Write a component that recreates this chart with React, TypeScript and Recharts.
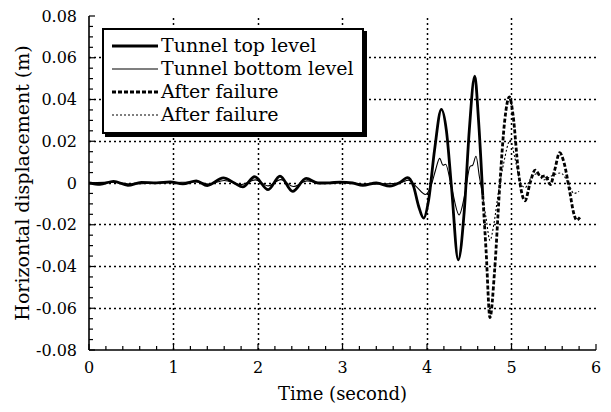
import React from 'react';
import { LineChart, Line, XAxis, YAxis, Legend } from 'recharts';

const FONT = 'DejaVu Serif, Liberation Serif, serif';

// [time (s), horizontal displacement (m)]
const topLevel: [number, number][] = [
  [0, 0], [0.13, -0.0006], [0.29, 0.0008], [0.46, -0.0011], [0.62, 0.0003],
  [0.8, 0.0001], [0.96, 0.0005], [1.11, -0.0004], [1.27, 0.001], [1.4, -0.0012],
  [1.59, 0.0025], [1.72, 0.0], [1.82, -0.0019], [1.96, 0.003], [2.12, -0.0032],
  [2.26, 0.0033], [2.41, -0.004], [2.57, 0.0022], [2.71, 0.0], [2.85, 0.0001],
  [2.97, 0.0004], [3.12, 0.0], [3.24, -0.0011], [3.4, 0.0], [3.56, -0.0015],
  [3.68, 0.0002], [3.77, 0.0026], [3.84, -0.0015], [3.9, -0.011], [3.96, -0.0168],
  [4.02, -0.008], [4.09, 0.016], [4.17, 0.0353], [4.23, 0.025], [4.29, -0.002],
  [4.37, -0.0368], [4.44, -0.014], [4.5, 0.025], [4.565, 0.0512], [4.61, 0.03],
  [4.66, -0.006],
];

const bottomLevel: [number, number][] = [
  [0, 0], [0.3, 0.0004], [0.5, -0.0005], [0.8, 0.0], [1.0, 0.0002],
  [1.27, 0.0005], [1.42, -0.0005], [1.6, 0.0012], [1.8, -0.0008], [1.97, 0.0015],
  [2.12, -0.0014], [2.27, 0.0016], [2.42, -0.0017], [2.58, 0.001], [2.75, 0.0],
  [3.0, 0.0002], [3.25, -0.0005], [3.5, -0.0004], [3.68, 0.0], [3.78, 0.0014],
  [3.88, -0.002], [3.98, -0.0055], [4.05, -0.001], [4.1, 0.006], [4.15, 0.0118],
  [4.19, 0.0085], [4.22, 0.009], [4.29, -0.002], [4.38, -0.0153], [4.45, -0.005],
  [4.51, 0.008], [4.54, 0.0085], [4.58, 0.0128], [4.62, 0.003], [4.65, -0.004],
];

const topAfterFailure: [number, number][] = [
  [4.66, -0.006], [4.7, -0.033], [4.745, -0.0645], [4.8, -0.042], [4.86, -0.002],
  [4.92, 0.03], [4.975, 0.0413], [5.02, 0.032], [5.08, 0.006], [5.16, -0.0085],
  [5.22, 0.0], [5.28, 0.0062], [5.35, 0.003], [5.4, 0.0035], [5.46, -0.0008],
  [5.51, 0.006], [5.57, 0.0145], [5.62, 0.01], [5.68, -0.002], [5.74, -0.015],
  [5.77, -0.0178], [5.81, -0.0165],
];

const bottomAfterFailure: [number, number][] = [
  [4.65, -0.004], [4.7, -0.017], [4.745, -0.0275], [4.79, -0.02], [4.84, -0.006],
  [4.91, 0.01], [4.985, 0.0205], [5.04, 0.012], [5.1, 0.001], [5.16, -0.0022],
  [5.24, 0.003], [5.31, 0.0045], [5.38, 0.0015], [5.48, 0.0035], [5.58, 0.0048],
  [5.66, 0.001], [5.74, -0.005], [5.8, -0.004],
];

const timeTicks = [0, 1, 2, 3, 4, 5, 6];
const dispTicks = [-0.08, -0.06, -0.04, -0.02, 0, 0.02, 0.04, 0.06, 0.08];

// minor ticks: 5 per second, 4 per 0.02 m
const timeMinor = Array.from({ length: 31 }, (_, i) => i / 5);
const dispMinor = Array.from({ length: 33 }, (_, i) => (i - 16) * 0.005);

const SERIES = [
  { key: 'top', name: 'Tunnel top level', points: topLevel, width: 2.8, dash: undefined },
  { key: 'bottom', name: 'Tunnel bottom level', points: bottomLevel, width: 1.1, dash: undefined },
  { key: 'topAfter', name: 'After failure', points: topAfterFailure, width: 2.8, dash: '4 2' },
  { key: 'bottomAfter', name: 'After failure', points: bottomAfterFailure, width: 1.1, dash: '2 2' },
];

// plot box size follows from chart size and margins
const CHART_W = 611;
const CHART_H = 412;
const MARGIN = { top: 16, right: 15, bottom: 0, left: 0 };
const Y_AXIS_W = 89;
const X_AXIS_H = 62;
const PLOT_W = CHART_W - Y_AXIS_W - MARGIN.right;
const PLOT_H = CHART_H - MARGIN.top - X_AXIS_H;

const near = (v: number, step: number) => Math.abs(v / step - Math.round(v / step)) < 1e-6;
const fmtDisp = (v: number) => (Math.abs(v) < 1e-9 ? '0' : v.toFixed(2));
const isInner = (v: number, ticks: number[]) => v > ticks[0] + 1e-9 && v < ticks[ticks.length - 1] - 1e-9;
// snap a hairline to the pixel grid so the dots stay crisp
const crisp = (c: number) => Math.round(c - 0.5) + 0.5;

const GRID = { stroke: '#000', strokeWidth: 1.5, strokeDasharray: '2 3', fill: 'none' };

// bottom axis tick: inward mark, dotted grid line on whole seconds, label
const BottomTick = (props: any) => {
  const { x, y, payload } = props;
  const major = near(payload.value, 1);
  const gx = crisp(x);
  return (
    <g>
      {major && isInner(payload.value, timeTicks) && <path d={`M${gx},${y}V${y - PLOT_H}`} {...GRID} />}
      <path d={`M${x},${y}V${y - (major ? 6 : 4)}`} stroke="#000" strokeWidth={1.2} />
      {major && (
        <text x={x} y={y + 23} textAnchor="middle" fontSize={16} fontFamily={FONT} fill="#000">
          {payload.value}
        </text>
      )}
    </g>
  );
};

const TopTick = (props: any) => {
  const { x, y, payload } = props;
  const major = near(payload.value, 1);
  return <path d={`M${x},${y}V${y + (major ? 6 : 4)}`} stroke="#000" strokeWidth={1.2} />;
};

const LeftTick = (props: any) => {
  const { x, y, payload } = props;
  const major = near(payload.value, 0.02);
  const gy = crisp(y);
  return (
    <g>
      {major && isInner(payload.value, dispTicks) && <path d={`M${x},${gy}H${x + PLOT_W}`} {...GRID} />}
      <path d={`M${x},${y}H${x + (major ? 6 : 4)}`} stroke="#000" strokeWidth={1.2} />
      {major && (
        <text x={x - 12} y={y} dy="0.35em" textAnchor="end" fontSize={16} fontFamily={FONT} fill="#000">
          {fmtDisp(payload.value)}
        </text>
      )}
    </g>
  );
};

const RightTick = (props: any) => {
  const { x, y, payload } = props;
  const major = near(payload.value, 0.02);
  return <path d={`M${x},${y}H${x - (major ? 6 : 4)}`} stroke="#000" strokeWidth={1.2} />;
};

const LegendBox = () => (
  <div
    style={{
      width: 262,
      height: 106,
      boxSizing: 'border-box',
      border: '2px solid #000',
      boxShadow: '3px 3px 0 #000',
      background: '#fff',
      padding: '4px 0 0 8px',
      fontFamily: FONT,
      fontSize: 19,
      lineHeight: '23px',
      color: '#000',
    }}
  >
    {SERIES.map((s) => (
      <div key={s.key} style={{ display: 'flex', alignItems: 'center', height: 23 }}>
        <svg width={46} height={10} style={{ flex: 'none' }}>
          <line x1={0} y1={5} x2={46} y2={5} stroke="#000" strokeWidth={s.width} strokeDasharray={s.dash} />
        </svg>
        <span style={{ marginLeft: 3, whiteSpace: 'nowrap' }}>{s.name}</span>
      </div>
    ))}
  </div>
);

export default function App() {
  return (
    <div style={{ position: 'absolute', left: 0, top: 0, background: '#fff', fontFamily: FONT }}>
      <LineChart width={CHART_W} height={CHART_H} margin={MARGIN}>
        <XAxis
          type="number"
          dataKey="t"
          domain={[0, 6]}
          ticks={timeMinor}
          interval={0}
          allowDataOverflow
          tickLine={false}
          tickSize={0}
          tickMargin={0}
          tick={BottomTick}
          axisLine={{ stroke: '#000', strokeWidth: 1.6 }}
          height={X_AXIS_H}
          label={{ value: 'Time (second)', position: 'insideBottom', offset: 12, fontSize: 18, fontFamily: FONT, fill: '#000' }}
        />
        <XAxis
          xAxisId="top"
          orientation="top"
          type="number"
          domain={[0, 6]}
          ticks={timeMinor}
          interval={0}
          allowDataOverflow
          tickLine={false}
          tickSize={0}
          tickMargin={0}
          tick={TopTick}
          axisLine={{ stroke: '#000', strokeWidth: 1.6 }}
          height={0}
        />
        <YAxis
          type="number"
          domain={[-0.08, 0.08]}
          ticks={dispMinor}
          interval={0}
          allowDataOverflow
          tickLine={false}
          tickSize={0}
          tickMargin={0}
          tick={LeftTick}
          axisLine={{ stroke: '#000', strokeWidth: 1.6 }}
          width={Y_AXIS_W}
          label={{ value: 'Horizontal displacement (m)', angle: -90, position: 'center', dx: -22, fontSize: 19, fontFamily: FONT, fill: '#000' }}
        />
        <YAxis
          yAxisId="right"
          orientation="right"
          type="number"
          domain={[-0.08, 0.08]}
          ticks={dispMinor}
          interval={0}
          allowDataOverflow
          tickLine={false}
          tickSize={0}
          tickMargin={0}
          tick={RightTick}
          axisLine={{ stroke: '#000', strokeWidth: 1.6 }}
          width={0}
        />
        {SERIES.map((s) => (
          <Line
            key={s.key}
            xAxisId={0}
            yAxisId={0}
            data={s.points.map(([t, v]) => ({ t, [s.key]: v }))}
            dataKey={s.key}
            name={s.name}
            type="monotone"
            stroke="#000"
            strokeWidth={s.width}
            strokeDasharray={s.dash}
            dot={false}
            activeDot={false}
            isAnimationActive={false}
          />
        ))}
        <Legend
          layout="horizontal"
          align="center"
          verticalAlign="middle"
          wrapperStyle={{ left: 102, top: 28, width: 'auto' }}
          content={<LegendBox />}
        />
      </LineChart>
    </div>
  );
}
